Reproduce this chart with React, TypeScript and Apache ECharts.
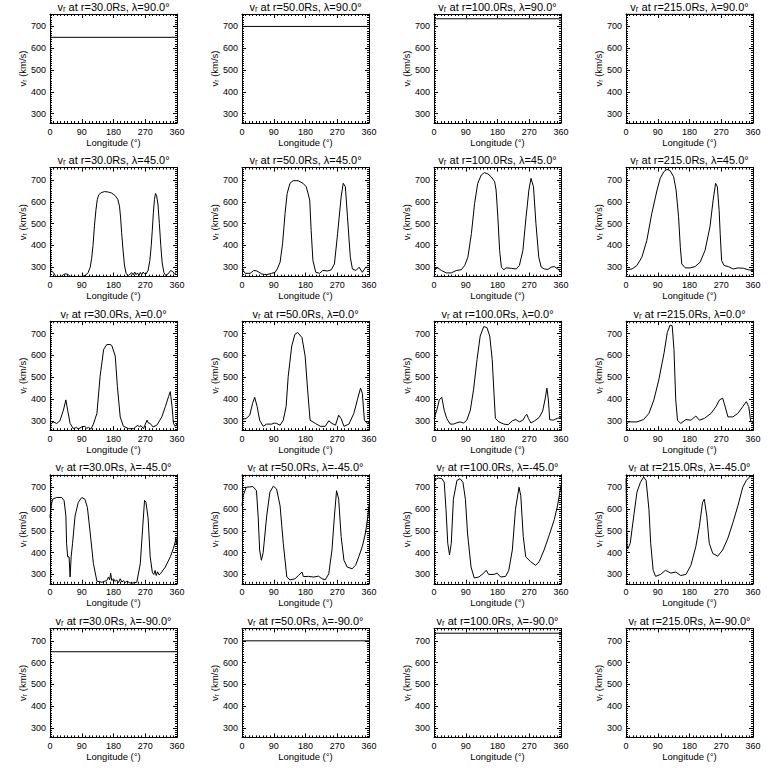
import React, { useEffect, useRef } from "react";
import * as echarts from "echarts";

// ---- labels ----
const RADII = ["30.0", "50.0", "100.0", "215.0"];
const LATITUDES = ["90.0", "45.0", "0.0", "-45.0", "-90.0"];
const LON_TICK_INTERVAL = 90;
const LON_RANGE = [0, 360];
const V_RANGE = [257, 757];

// ---- polar (λ=±90°) constant speeds per radius ----
const POLE_SPEED = [650, 700, 735, 756];

// ---- λ = 45° profiles [longitude, vr] ----
const R30_LAT45 = [[0,278],[5,282],[10,275],[15,262],[20,250],[30,255],[38,266],[45,270],[52,266],[60,255],[70,250],[80,258],[90,258],[100,262],[108,275],[114,300],[118,340],[122,400],[126,490],[130,560],[134,610],[138,632],[145,642],[155,647],[165,645],[175,640],[185,628],[192,612],[197,580],[200,530],[203,460],[207,380],[211,310],[216,270],[222,262],[232,275],[236,265],[240,278],[244,266],[248,274],[252,262],[256,276],[260,266],[264,278],[268,270],[272,268],[278,285],[283,330],[287,400],[290,470],[293,550],[296,610],[299,638],[302,630],[306,590],[310,500],[314,400],[318,320],[323,275],[328,262],[335,270],[342,285],[348,280],[353,268],[360,282]];
const R50_LAT45 = [[0,292],[9,272],[23,272],[33,285],[42,283],[56,269],[70,266],[84,272],[94,277],[100,292],[108,323],[115,408],[122,546],[128,638],[136,685],[145,697],[159,697],[173,685],[182,669],[187,640],[192,608],[196,469],[201,331],[209,277],[220,272],[229,285],[243,283],[253,288],[262,315],[271,454],[281,623],[287,685],[293,669],[299,531],[307,346],[313,292],[323,285],[332,300],[341,277],[351,300],[360,298]];
const R100_LAT45 = [[0,292],[11,297],[21,285],[35,274],[49,274],[63,285],[77,288],[87,308],[96,346],[106,454],[115,592],[124,685],[134,723],[143,734],[153,728],[162,715],[172,692],[176,654],[181,531],[186,377],[191,300],[198,288],[204,297],[219,295],[233,292],[242,308],[252,377],[261,531],[269,654],[275,708],[282,669],[289,500],[297,346],[304,300],[313,292],[323,290],[332,300],[341,303],[351,292],[360,277]];
const R215_LAT45 = [[0,288],[17,292],[31,308],[45,346],[59,423],[73,546],[88,654],[97,708],[107,738],[116,749],[125,743],[135,715],[142,654],[149,531],[154,392],[158,315],[168,297],[182,297],[196,303],[210,323],[224,377],[238,485],[247,608],[254,685],[259,669],[264,560],[267,454],[271,331],[278,308],[290,303],[304,292],[318,297],[333,295],[347,288],[360,285]];

// ---- λ = 0° profiles ----
const R30_LAT0 = [[0,280],[9,295],[19,288],[28,300],[38,349],[45,396],[50,349],[57,288],[66,264],[75,270],[80,262],[90,272],[99,275],[104,265],[109,270],[116,262],[123,285],[133,334],[142,504],[152,627],[161,650],[170,650],[175,646],[185,597],[191,458],[199,318],[208,275],[223,264],[237,264],[249,280],[253,272],[258,278],[265,264],[275,303],[279,290],[284,288],[292,272],[303,280],[317,318],[327,365],[336,411],[341,434],[346,365],[350,288],[355,275],[360,285]];
const R50_LAT0 = [[0,306],[12,311],[22,326],[30,380],[36,408],[43,365],[50,303],[60,275],[70,285],[84,285],[92,290],[98,288],[108,280],[117,303],[125,365],[131,504],[141,643],[150,697],[158,705],[170,682],[179,597],[186,442],[193,303],[208,288],[222,275],[236,275],[246,300],[255,288],[265,280],[274,326],[281,310],[289,275],[303,285],[317,334],[327,396],[336,450],[341,427],[347,303],[355,288],[360,295]];
const R100_LAT0 = [[0,311],[8,349],[15,396],[22,408],[29,349],[36,311],[46,285],[55,285],[65,291],[74,295],[84,290],[93,303],[103,349],[112,442],[122,581],[131,689],[141,732],[150,728],[158,689],[165,581],[170,427],[174,311],[184,295],[198,285],[210,282],[222,300],[232,306],[242,295],[252,303],[258,320],[263,330],[268,310],[275,290],[285,300],[298,315],[308,345],[315,400],[320,450],[324,400],[328,305],[338,303],[350,312],[360,314]];
const R215_LAT0 = [[0,295],[31,295],[50,306],[65,334],[79,396],[93,488],[108,612],[117,705],[125,739],[131,736],[136,627],[141,396],[146,303],[155,288],[170,306],[184,303],[198,322],[208,303],[222,311],[241,334],[255,365],[265,396],[274,404],[281,365],[289,318],[303,318],[317,334],[331,365],[341,388],[348,365],[353,303],[360,288]];

// ---- λ = -45° profiles ----
const R30_LATM45 = [[0,560],[2,599],[7,645],[19,653],[33,653],[40,638],[45,568],[47,443],[50,381],[54,381],[57,288],[60,381],[64,443],[71,568],[80,630],[90,653],[99,645],[106,607],[114,490],[123,350],[133,269],[147,264],[161,272],[166,288],[169,275],[172,305],[175,272],[180,280],[185,268],[189,275],[194,262],[199,280],[204,265],[208,272],[213,262],[218,270],[225,262],[232,260],[246,264],[256,350],[263,521],[268,640],[272,630],[278,560],[284,381],[290,310],[294,300],[298,318],[301,295],[305,312],[309,298],[313,303],[327,334],[341,381],[350,420],[355,450],[357,470],[358,440],[360,459]];
const R50_LATM45 = [[0,614],[3,660],[12,700],[31,703],[41,684],[46,560],[50,412],[55,365],[60,400],[70,568],[79,677],[89,705],[98,692],[108,614],[117,443],[127,288],[136,275],[150,280],[160,295],[170,311],[174,290],[189,291],[203,288],[217,292],[227,280],[236,275],[246,303],[255,412],[262,568],[268,684],[274,645],[281,474],[289,365],[298,334],[312,326],[322,342],[331,381],[341,428],[350,490],[357,568],[360,620]];
const R100_LATM45 = [[0,731],[12,742],[22,740],[29,723],[34,599],[39,443],[44,390],[49,443],[55,645],[65,731],[74,739],[82,723],[89,645],[95,490],[105,334],[114,284],[127,288],[141,306],[148,319],[155,300],[170,300],[179,306],[189,288],[203,291],[212,319],[222,412],[231,599],[241,700],[246,661],[253,474],[260,381],[274,358],[288,342],[298,358],[312,412],[327,482],[341,552],[350,614],[360,708]];
const R215_LATM45 = [[0,740],[3,428],[6,420],[12,443],[22,568],[31,677],[41,723],[50,747],[57,731],[65,599],[70,443],[77,319],[84,291],[98,300],[112,319],[127,306],[141,311],[155,295],[170,300],[184,342],[198,428],[208,521],[217,630],[222,645],[229,568],[236,443],[246,396],[260,384],[274,412],[289,467],[303,537],[317,614],[331,700],[341,731],[350,747],[360,754]];

const PROFILE_ROWS: Record<number, number[][][]> = {
  1: [R30_LAT45, R50_LAT45, R100_LAT45, R215_LAT45],
  2: [R30_LAT0, R50_LAT0, R100_LAT0, R215_LAT0],
  3: [R30_LATM45, R50_LATM45, R100_LATM45, R215_LATM45],
};

const FONT = "'Liberation Sans', Arial, sans-serif";

function buildOption() {
  const GRID_LEFT = [50, 242, 434, 626];
  const GRID_W = 127;
  const GRID_TOP0 = 14;
  const ROW_STEP = 153.6;
  const GRID_H = 109;
  const black = "#000";
  const grid: any[] = [];
  const xAxis: any[] = [];
  const yAxis: any[] = [];
  const xTop: any[] = [];
  const yRight: any[] = [];
  const series: any[] = [];
  let idx = 0;
  const common = (gi: number) => ({
    type: "value",
    gridIndex: gi,
    axisLine: { show: true, onZero: false, lineStyle: { color: black, width: 1 } },
    axisTick: { show: true, inside: true, length: 4, lineStyle: { color: black, width: 1 } },
    splitLine: { show: false },
    minorSplitLine: { show: false },
  });
  for (let r = 0; r < LATITUDES.length; r++) {
    for (let c = 0; c < RADII.length; c++) {
      grid.push({
        left: GRID_LEFT[c],
        top: GRID_TOP0 + ROW_STEP * r,
        width: GRID_W,
        height: GRID_H,
      });
      const xBase = {
        ...common(idx),
        min: LON_RANGE[0],
        max: LON_RANGE[1],
        interval: LON_TICK_INTERVAL,
        minorTick: { show: true, splitNumber: 9, length: 2, lineStyle: { color: black, width: 1 } },
      };
      xAxis.push({
        ...xBase,
        position: "bottom",
        axisLabel: { show: true, margin: 4, fontSize: 9, color: black, fontFamily: FONT },
        name: "Longitude (°)",
        nameLocation: "middle",
        nameGap: 14,
        nameTextStyle: { fontSize: 9.5, color: black, fontFamily: FONT },
      });
      xTop.push({
        ...xBase,
        position: "top",
        axisLabel: { show: false },
        name: `vᵣ at r=${RADII[c]}Rs, λ=${LATITUDES[r]}°`,
        nameLocation: "middle",
        nameGap: 2,
        nameTextStyle: { fontSize: 11, color: black, fontFamily: FONT },
      });
      const yBase = {
        ...common(idx),
        min: V_RANGE[0],
        max: V_RANGE[1],
        splitNumber: 5,
        minorTick: { show: true, splitNumber: 10, length: 2, lineStyle: { color: black, width: 1 } },
      };
      yAxis.push({
        ...yBase,
        position: "left",
        axisLabel: {
          show: true,
          margin: 4,
          fontSize: 9,
          color: black,
          fontFamily: FONT,
          showMinLabel: false,
          showMaxLabel: false,
        },
        name: "vᵣ (km/s)",
        nameLocation: "middle",
        nameGap: 21,
        nameRotate: 90,
        nameTextStyle: { fontSize: 9.5, color: black, fontFamily: FONT },
      });
      yRight.push({
        ...yBase,
        position: "right",
        axisLabel: { show: false },
      });
      let data: number[][];
      if (r === 0 || r === LATITUDES.length - 1) {
        data = [
          [LON_RANGE[0], POLE_SPEED[c]],
          [LON_RANGE[1], POLE_SPEED[c]],
        ];
      } else {
        data = PROFILE_ROWS[r][c];
      }
      series.push({
        type: "line",
        xAxisIndex: idx,
        yAxisIndex: idx,
        data,
        symbol: "none",
        showSymbol: false,
        clip: true,
        silent: true,
        lineStyle: { color: black, width: 1 },
      });
      idx++;
    }
  }
  return {
    animation: false,
    backgroundColor: "#fff",
    grid,
    xAxis: [...xAxis, ...xTop],
    yAxis: [...yAxis, ...yRight],
    series,
  };
}

export default function App() {
  const ref = useRef<HTMLDivElement>(null);
  useEffect(() => {
    document.body.style.margin = "0";
    const chart = echarts.init(ref.current as HTMLDivElement, null, { renderer: "svg" });
    chart.setOption(buildOption() as any);
    return () => chart.dispose();
  }, []);
  return (
    <div
      ref={ref}
      style={{ width: 768, height: 768, position: "absolute", left: 0, top: 0 }}
    />
  );
}
